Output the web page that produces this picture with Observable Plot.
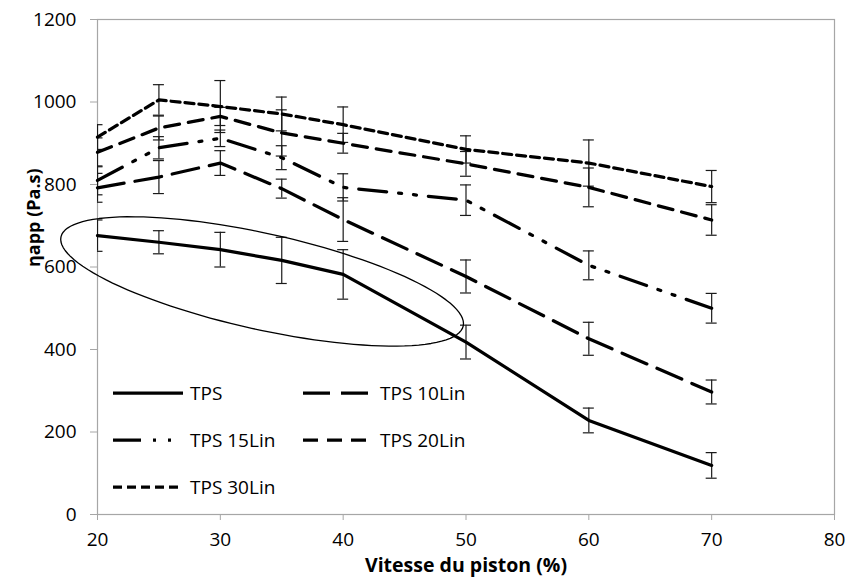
<!DOCTYPE html>
<html><head><meta charset="utf-8">
<script src="https://cdn.jsdelivr.net/npm/d3@7"></script>
<script src="https://cdn.jsdelivr.net/npm/@observablehq/plot@0.6"></script>
<style>
body{margin:0;background:#fff;}
#wrap{position:relative;width:849px;height:583px;font-family:"Open Sans",sans-serif;color:#000;}
g[aria-label="y-axis tick"] path, g[aria-label="x-axis tick"] path{stroke:#a6a6a6;}
.legend{position:absolute;left:113px;top:369px;display:grid;grid-template-columns:190px 190px;grid-auto-rows:47px;font-size:19px;}
.item{display:flex;align-items:center;height:47px;}
.item svg{margin-right:7px;}
</style></head>
<body><div id="wrap"></div>
<script>
// ---- data ----
const speeds   = [20, 25, 30, 35, 40, 50, 60, 70];
const tps      = [676, 660, 642, 616, 582, 418, 228, 119];
const tpsErr   = [38, 28, 42, 56, 60, 41, 30, 31];
const tps10    = [792, 818, 852, 790, 715, 577, 426, 297];
const tps10Err = [35, 40, 30, 23, 53, 40, 40, 29];
const tps15    = [810, 889, 912, 865, 793, 762, 604, 500];
const tps15Err = [35, 27, 20, 29, 33, 37, 35, 36];
const tps20    = [878, 937, 965, 925, 900, 850, 793, 714];
const tps20Err = [35, 29, 22, 56, 24, 30, 47, 37];
const tps30    = [915, 1005, 989, 971, 945, 885, 852, 795];
const tps30Err = [30, 37, 63, 41, 43, 33, 56, 39];
const seriesNames = ["TPS", "TPS 10Lin", "TPS 15Lin", "TPS 20Lin", "TPS 30Lin"];
const xTicks = [20, 30, 40, 50, 60, 70, 80];
const yTicks = [0, 200, 400, 600, 800, 1000, 1200];
const xTitle = "Vitesse du piston (%)";
const yTitle = "ηapp (Pa.s)";

// ---- styles ----
const W = 849, H = 583, ML = 97, MR = 15, MT = 19, MB = 69;
const LW = 3.25;
const dashes = [null, "27,11", "28,12,3,12,3,12", "15,9", "9,5"];
const pxPerX = (W - ML - MR) / 60, pxPerY = (H - MT - MB) / 1200;
const cap = 5.5 / pxPerX;

const allValues = [tps, tps10, tps15, tps20, tps30];
const allErr = [tpsErr, tps10Err, tps15Err, tps20Err, tps30Err];
const rows = seriesNames.flatMap((s, k) => speeds.map((x, i) => ({s, k, x, y: allValues[k][i], e: allErr[k][i]})));

// annotation ellipse (center in data units, radii in px)
const ell = {cx: 33.4, cy: 565, rx: 206, ry: 48, angle: 12.5};
const th = ell.angle * Math.PI / 180;
const ellPts = d3.range(0, 361, 3).map(a => {
  const t = a * Math.PI / 180;
  const px = ell.rx * Math.cos(t) * Math.cos(th) - ell.ry * Math.sin(t) * Math.sin(th);
  const py = ell.rx * Math.cos(t) * Math.sin(th) + ell.ry * Math.sin(t) * Math.cos(th);
  return {x: ell.cx + px / pxPerX, y: ell.cy - py / pxPerY};
});

const marks = [
  Plot.frame({stroke: "#a6a6a6", strokeWidth: 1.2}),
  Plot.axisX({ticks: xTicks, tickSize: 6, tickPadding: 12, tickFormat: d3.format("d"), label: null}),
  Plot.axisY({ticks: yTicks, tickSize: 7, tickPadding: 14, tickFormat: d3.format("d"), label: null}),
  Plot.text([yTitle], {frameAnchor: "left", dx: -63, rotate: -90, fontWeight: "bold", fontSize: 18}),
  Plot.text([xTitle], {frameAnchor: "bottom", dy: 57, fontWeight: "bold", fontSize: 19.5}),
  Plot.ruleX(rows, {x: "x", y1: d => d.y - d.e, y2: d => d.y + d.e, stroke: "#1a1a1a", strokeWidth: 1.2, clip: true}),
  Plot.ruleY(rows, {y: d => d.y + d.e, x1: d => d.x - cap, x2: d => d.x + cap, stroke: "#1a1a1a", strokeWidth: 1.2, clip: true}),
  Plot.ruleY(rows, {y: d => d.y - d.e, x1: d => d.x - cap, x2: d => d.x + cap, stroke: "#1a1a1a", strokeWidth: 1.2, clip: true}),
  ...seriesNames.map((s, k) => Plot.line(rows.filter(d => d.k === k), {x: "x", y: "y", stroke: "#000", strokeWidth: LW, strokeDasharray: dashes[k], strokeLinejoin: "round"})),
  Plot.line(ellPts, {x: "x", y: "y", stroke: "#000", strokeWidth: 1.3, curve: "linear-closed"})
];

const chart = Plot.plot({
  width: W, height: H, marginLeft: ML, marginRight: MR, marginTop: MT, marginBottom: MB,
  x: {domain: [20, 80]},
  y: {domain: [0, 1200]},
  style: {fontFamily: "'Open Sans', sans-serif", fontSize: "19px", color: "#000", background: "#fff", overflow: "visible"},
  marks
});
const wrap = document.getElementById("wrap");
wrap.appendChild(chart);

// legend overlay
const leg = document.createElement("div");
leg.className = "legend";
seriesNames.forEach((s, k) => {
  const it = document.createElement("div");
  it.className = "item";
  it.innerHTML = `<svg width="70" height="10"><line x1="0" x2="70" y1="5" y2="5" stroke="#000" stroke-width="${LW}" ${dashes[k] ? `stroke-dasharray="${dashes[k]}"` : ""}/></svg><span>${s}</span>`;
  leg.appendChild(it);
});
wrap.appendChild(leg);
</script>
</body></html>
